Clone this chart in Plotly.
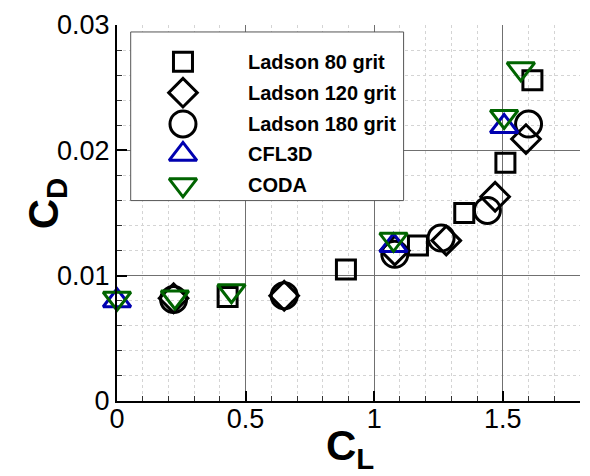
import plotly.graph_objects as go

# Drag polar: lift coefficient vs drag coefficient
cl_80 = [0.43, 0.89, 1.17, 1.35, 1.51, 1.615]
cd_80 = [0.0083, 0.0105, 0.0124, 0.0150, 0.0190, 0.0256]

cl_120 = [0.22, 0.65, 1.08, 1.28, 1.47, 1.59]
cd_120 = [0.0082, 0.0084, 0.0120, 0.0128, 0.0163, 0.0209]

cl_180 = [0.22, 0.65, 1.08, 1.26, 1.44, 1.60]
cd_180 = [0.0081, 0.0084, 0.0117, 0.0130, 0.0152, 0.0221]

cl_cfl3d = [0.0, 1.075, 1.505]
cd_cfl3d = [0.0080, 0.0124, 0.0219]

cl_coda = [0.0, 0.225, 0.445, 1.075, 1.505, 1.57]
cd_coda = [0.0082, 0.0083, 0.0088, 0.0129, 0.0227, 0.0265]

series_names = ["Ladson 80 grit", "Ladson 120 grit", "Ladson 180 grit", "CFL3D", "CODA"]
x_ticks = [0, 0.5, 1, 1.5]
y_ticks = [0, 0.01, 0.02, 0.03]

BLACK = "#000000"
BLUE = "#0000b0"
GREEN = "#006400"
FONT = "Liberation Sans, Arial, Helvetica, sans-serif"

styles = [
    dict(symbol="square-open", size=19, color=BLACK),
    dict(symbol="diamond-open", size=22, color=BLACK),
    dict(symbol="circle-open", size=26, color=BLACK),
    dict(symbol="triangle-up-open", size=24, color=BLUE),
    dict(symbol="triangle-down-open", size=24, color=GREEN),
]
data = [
    (cl_80, cd_80),
    (cl_120, cd_120),
    (cl_180, cd_180),
    (cl_cfl3d, cd_cfl3d),
    (cl_coda, cd_coda),
]

fig = go.Figure()

for (xs, ys), st, name in zip(data, styles, series_names):
    fig.add_trace(go.Scatter(
        x=xs, y=ys, mode="markers", name=name, showlegend=False,
        cliponaxis=False,
        marker=dict(symbol=st["symbol"], size=st["size"], color=st["color"],
                    line=dict(color=st["color"], width=3)),
    ))

# Boxed key in the upper-left corner, drawn on an overlay axis spanning [0, 1]
box_x0, box_x1, box_y0, box_y1 = 0.0296, 0.619, 0.533, 0.9815
fig.add_trace(go.Scatter(
    x=[box_x0, box_x1, box_x1, box_x0, box_x0],
    y=[box_y0, box_y0, box_y1, box_y1, box_y0],
    mode="lines", fill="toself", fillcolor="white",
    line=dict(color="#555555", width=1),
    xaxis="x2", yaxis="y2", showlegend=False, hoverinfo="skip",
))

key_x_marker = 0.1425
key_x_text = 0.278
key_rows = [0.902, 0.820, 0.737, 0.656, 0.575]
for st, name, ky in zip(styles, series_names, key_rows):
    fig.add_trace(go.Scatter(
        x=[key_x_marker], y=[ky], mode="markers", showlegend=False,
        xaxis="x2", yaxis="y2", cliponaxis=False, hoverinfo="skip",
        marker=dict(symbol=st["symbol"], size=st["size"], color=st["color"],
                    line=dict(color=st["color"], width=3)),
    ))
    fig.add_annotation(
        x=key_x_text, y=ky, xref="paper", yref="paper", text=name,
        showarrow=False, xanchor="left", yanchor="middle",
        font=dict(family=FONT, size=20, color=BLACK, weight="bold"),
    )

axis_common = dict(
    showline=True, linecolor=BLACK, linewidth=2,
    ticks="inside", ticklen=10, tickwidth=2, tickcolor=BLACK,
    showgrid=True, gridcolor="#707070", gridwidth=1, zeroline=False,
    tickfont=dict(family=FONT, size=27, color=BLACK),
)

fig.update_layout(
    width=590, height=476,
    margin=dict(l=117, r=10, t=22, b=75),
    paper_bgcolor="white", plot_bgcolor="white",
    showlegend=False,
    xaxis=dict(
        range=[0, 1.8], tickvals=x_ticks, ticktext=[f"{v:g}" for v in x_ticks],
        ticklabelstandoff=-7,
        minor=dict(dtick=0.1, tick0=0, ticks="inside", ticklen=5, tickwidth=1,
                   tickcolor="#333333", showgrid=True, gridcolor="#d4d4d4",
                   griddash="dot", gridwidth=1),
        **axis_common,
    ),
    yaxis=dict(
        range=[0, 0.03], tickvals=y_ticks, ticktext=[f"{v:g}" for v in y_ticks],
        minor=dict(dtick=0.002, tick0=0, ticks="inside", ticklen=5, tickwidth=1,
                   tickcolor="#333333", showgrid=True, gridcolor="#d4d4d4",
                   griddash="dot", gridwidth=1),
        **axis_common,
    ),
    xaxis2=dict(overlaying="x", range=[0, 1], visible=False, anchor="y2"),
    yaxis2=dict(overlaying="y", range=[0, 1], visible=False, anchor="x2"),
)

# Axis titles
fig.add_annotation(
    x=0.503, y=-0.125, xref="paper", yref="paper",
    text="C<sub>L</sub>", showarrow=False, xanchor="center", yanchor="middle",
    font=dict(family=FONT, size=42, color=BLACK, weight="bold"),
)
fig.add_annotation(
    x=-0.152, y=0.525, xref="paper", yref="paper", textangle=-90,
    text="C<sub>D</sub>", showarrow=False, xanchor="center", yanchor="middle",
    font=dict(family=FONT, size=42, color=BLACK, weight="bold"),
)

fig.write_html("out.html")
